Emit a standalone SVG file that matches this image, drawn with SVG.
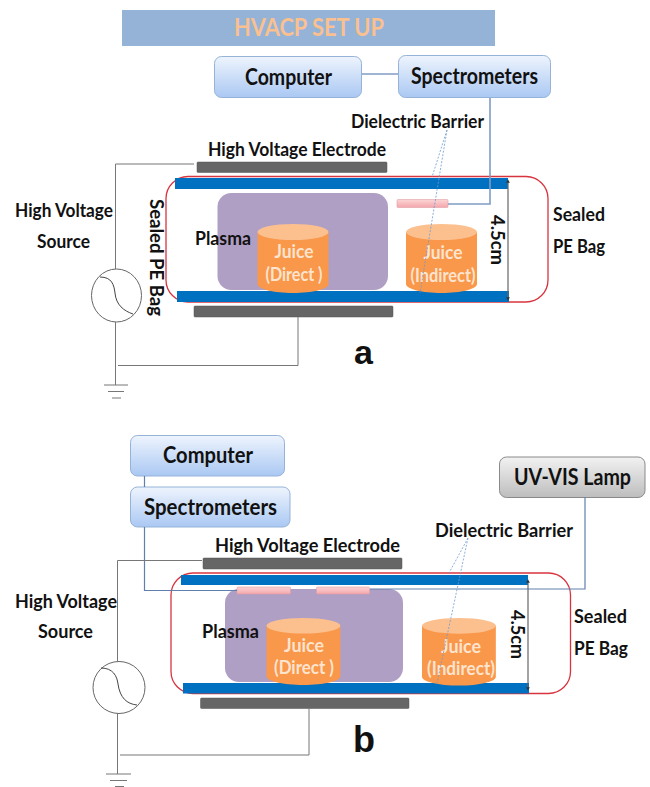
<svg xmlns="http://www.w3.org/2000/svg" width="650" height="787" viewBox="0 0 650 787">
<style>
text{font-family:"Lato","Open Sans","Liberation Sans",sans-serif;font-weight:700;fill:#111}
.lb{font-size:18.500px}
.box{font-size:22px}
.j{font-size:18.500px;fill:#fde4cf;text-anchor:middle;font-weight:700}
.pan{font-family:"Liberation Sans",sans-serif;font-size:34px;font-weight:700;fill:#111}
.blu{fill:url(#bg);stroke:#95b3d7;stroke-width:1}
.gry{fill:url(#gg);stroke:#8a8a8a;stroke-width:1}
.el{fill:#666;stroke:#555;stroke-width:.5}
.bar{fill:#0070c0}
.bag{fill:none;stroke:#d8343f;stroke-width:1.300}
.pl{fill:#b09fc4}
.body{fill:#f9974a}
.top{fill:#fcc08f}
.pad{fill:url(#pg);stroke:#e2a0a6;stroke-width:.6}
.w{fill:none;stroke:#777;stroke-width:1}
.s{fill:none;stroke:#5f80ad;stroke-width:1.200}
.s2{fill:none;stroke:#7f9cc4;stroke-width:1.600}
.d{fill:none;stroke:#6f9bd0;stroke-width:.8;stroke-dasharray:2 1.500}
.dim{fill:none;stroke:#666;stroke-width:1.200;marker-start:url(#ar);marker-end:url(#ar)}
.src{fill:#fff;stroke:#666;stroke-width:1}
.sin{fill:none;stroke:#444;stroke-width:1}
</style>
<defs>
<linearGradient id="bg" x1="0" y1="0" x2="0" y2="1"><stop offset="0" stop-color="#eef4fd"/><stop offset="1" stop-color="#aac8f3"/></linearGradient>
<linearGradient id="gg" x1="0" y1="0" x2="0" y2="1"><stop offset="0" stop-color="#f2f2f2"/><stop offset="1" stop-color="#bdbdbd"/></linearGradient>
<linearGradient id="pg" x1="0" y1="0" x2="0" y2="1"><stop offset="0" stop-color="#fbd5d5"/><stop offset="1" stop-color="#f4a6ac"/></linearGradient>
<marker id="ar" viewBox="0 0 4 4" refX="2" refY="2" markerWidth="3" markerHeight="3" orient="auto-start-reverse"><path d="M0 0L4 2L0 4Z" fill="#333"/></marker>
<g id="cyl"><path class="body" d="M0 8V60C0 65 16 69 35.500 69S71 65 71 60V8Z"/><ellipse class="top" cx="35.500" cy="8" rx="35.500" ry="8"/></g>
</defs>

<g id="title"><rect x="122" y="10" width="373" height="36" fill="#95b3d7"/><text x="234" y="36" font-size="24" style="fill:#fac090" textLength="150" lengthAdjust="spacingAndGlyphs">HVACP SET UP</text></g>

<g id="a-computer"><rect class="blu" x="214.500" y="56.500" width="147" height="41" rx="7"/><text class="box" x="245" y="85" textLength="87" lengthAdjust="spacingAndGlyphs">Computer</text></g>
<g id="a-spectrometers"><rect class="blu" x="398.500" y="55.500" width="152" height="42" rx="7"/><text class="box" x="411" y="84" textLength="127" lengthAdjust="spacingAndGlyphs">Spectrometers</text></g>
<g id="a-dielectric-label"><text class="lb" x="351" y="128" textLength="133" lengthAdjust="spacingAndGlyphs">Dielectric Barrier</text></g>
<g id="a-hv-electrode"><text class="lb" x="208" y="156" textLength="178" lengthAdjust="spacingAndGlyphs">High Voltage Electrode</text><rect class="el" x="197" y="162" width="190" height="10.500" rx="1"/></g>
<g id="a-bag"><rect class="bag" x="166" y="176.500" width="382" height="125.500" rx="22"/><text class="lb" x="553" y="221" textLength="52" lengthAdjust="spacingAndGlyphs">Sealed</text><text class="lb" x="553" y="253" textLength="52" lengthAdjust="spacingAndGlyphs">PE Bag</text><text class="lb" transform="translate(150 199) rotate(90)" x="0" y="0" textLength="117" lengthAdjust="spacingAndGlyphs">Sealed PE Bag</text></g>
<g id="a-plates"><rect class="bar" x="175" y="178" width="333" height="11"/><rect class="bar" x="177" y="291" width="332" height="11"/></g>
<g id="a-plasma"><rect class="pl" x="217.500" y="193" width="170.500" height="97" rx="14"/><text class="lb" x="195" y="245" textLength="56" lengthAdjust="spacingAndGlyphs">Plasma</text></g>
<g id="a-juice-direct"><use href="#cyl" x="257.500" y="224"/><text class="j" x="294" y="258" textLength="39" lengthAdjust="spacingAndGlyphs">Juice</text><text class="j" x="294" y="281" textLength="57" lengthAdjust="spacingAndGlyphs">(Direct )</text></g>
<g id="a-juice-indirect"><use href="#cyl" x="406" y="224"/><text class="j" x="443" y="259" textLength="39" lengthAdjust="spacingAndGlyphs">Juice</text><text class="j" x="443" y="282" textLength="65" lengthAdjust="spacingAndGlyphs">(Indirect)</text></g>
<g id="a-barrier"><rect class="pad" x="397" y="199.500" width="51" height="8" rx="1"/></g>
<g id="a-lower-electrode"><rect class="el" x="194" y="306" width="199" height="11" rx="1"/></g>
<g id="a-dim"><text class="lb" transform="translate(491 215) rotate(90)" x="0" y="0" textLength="50" lengthAdjust="spacingAndGlyphs">4.5cm</text></g>
<g id="a-source"><text class="lb" x="15" y="217" textLength="98" lengthAdjust="spacingAndGlyphs">High Voltage</text><text class="lb" x="37" y="248" textLength="53" lengthAdjust="spacingAndGlyphs">Source</text><ellipse class="src" cx="116.500" cy="295.500" rx="25" ry="26.500"/><path class="sin" d="M100 277C112 277 114 285 115 293C116 305 124 311 133 314"/></g>
<g id="a-label"><text class="pan" x="354" y="364">a</text></g>

<g id="b-computer"><rect class="blu" x="130.500" y="435.500" width="154" height="40.500" rx="7"/><text class="box" x="163" y="463" textLength="90" lengthAdjust="spacingAndGlyphs">Computer</text></g>
<g id="b-spectrometers"><rect class="blu" x="130.500" y="487" width="159.500" height="40" rx="7"/><text class="box" x="144" y="515" textLength="133" lengthAdjust="spacingAndGlyphs">Spectrometers</text></g>
<g id="b-lamp"><rect class="gry" x="499.500" y="457" width="145.500" height="40.500" rx="7"/><text class="box" x="514" y="485" textLength="117" lengthAdjust="spacingAndGlyphs">UV-VIS Lamp</text></g>
<g id="b-dielectric-label"><text class="lb" x="435" y="537" textLength="138" lengthAdjust="spacingAndGlyphs">Dielectric Barrier</text></g>
<g id="b-hv-electrode"><text class="lb" x="215" y="552" textLength="185" lengthAdjust="spacingAndGlyphs">High Voltage Electrode</text><rect class="el" x="203" y="558" width="199" height="11" rx="1"/></g>
<g id="b-bag"><rect class="bag" x="171" y="573" width="399.500" height="120.500" rx="22"/><text class="lb" x="574" y="623" textLength="53" lengthAdjust="spacingAndGlyphs">Sealed</text><text class="lb" x="574" y="655" textLength="54" lengthAdjust="spacingAndGlyphs">PE Bag</text></g>
<g id="b-plates"><rect class="bar" x="181" y="575" width="347" height="10"/><rect class="bar" x="183" y="683" width="346" height="10.500"/></g>
<g id="b-plasma"><rect class="pl" x="225" y="589" width="178" height="93" rx="14"/><text class="lb" x="202" y="638" textLength="57" lengthAdjust="spacingAndGlyphs">Plasma</text></g>
<g id="b-juice-direct"><use href="#cyl" transform="translate(266.500 618) scale(1.040 .97)"/><text class="j" x="304" y="652" textLength="40" lengthAdjust="spacingAndGlyphs">Juice</text><text class="j" x="304" y="674" textLength="60" lengthAdjust="spacingAndGlyphs">(Direct )</text></g>
<g id="b-juice-indirect"><use href="#cyl" transform="translate(422 618) scale(1.040 .98)"/><text class="j" x="461" y="653" textLength="40" lengthAdjust="spacingAndGlyphs">Juice</text><text class="j" x="461" y="675" textLength="68" lengthAdjust="spacingAndGlyphs">(Indirect)</text></g>
<g id="b-barriers"><rect class="pad" x="237" y="587" width="53.500" height="7" rx="1"/><rect class="pad" x="316.500" y="587" width="53" height="7" rx="1"/></g>
<g id="b-lower-electrode"><rect class="el" x="200.500" y="698" width="208.500" height="10.500" rx="1"/></g>
<g id="b-dim"><text class="lb" transform="translate(511 610) rotate(90)" x="0" y="0" textLength="49" lengthAdjust="spacingAndGlyphs">4.5cm</text></g>
<g id="b-source"><text class="lb" x="15" y="608" textLength="102" lengthAdjust="spacingAndGlyphs">High Voltage</text><text class="lb" x="38" y="638" textLength="55" lengthAdjust="spacingAndGlyphs">Source</text><circle class="src" cx="119" cy="687.500" r="26"/><path class="sin" d="M101 668C113 668 117 676 118 684C120 698 127 704 137 705"/></g>
<g id="b-label"><text class="pan" x="353" y="752" style="font-size:36px">b</text></g>

<g id="connectors">
<path class="s2" d="M362 74H398"/>
<path class="s2" d="M490 98V204H448"/>
<path class="d" d="M447 130L432 177M447 130L420 293"/>
<path class="w" d="M194 164H115.500V269"/>
<path class="w" d="M115.500 322V385M118 365.500H298V317"/>
<path class="w" d="M104 385H128M108 391.500H124M112 398H121"/>
<path class="dim" d="M508 181V299"/>
<path class="s" d="M144.500 476V487"/>
<path class="s" d="M144.500 527V590.500H237"/>
<path class="s" d="M370 589H585V497"/>
<path class="d" d="M468 538L449 573M468 538L437 683"/>
<path class="w" d="M202 560.500H117.500V662"/>
<path class="w" d="M117.500 713V774M120 755H309V708"/>
<path class="w" d="M106 774H131M110 780.500H127M115 786.500H124"/>
<path class="dim" d="M528 581V689"/>
</g>
</svg>
